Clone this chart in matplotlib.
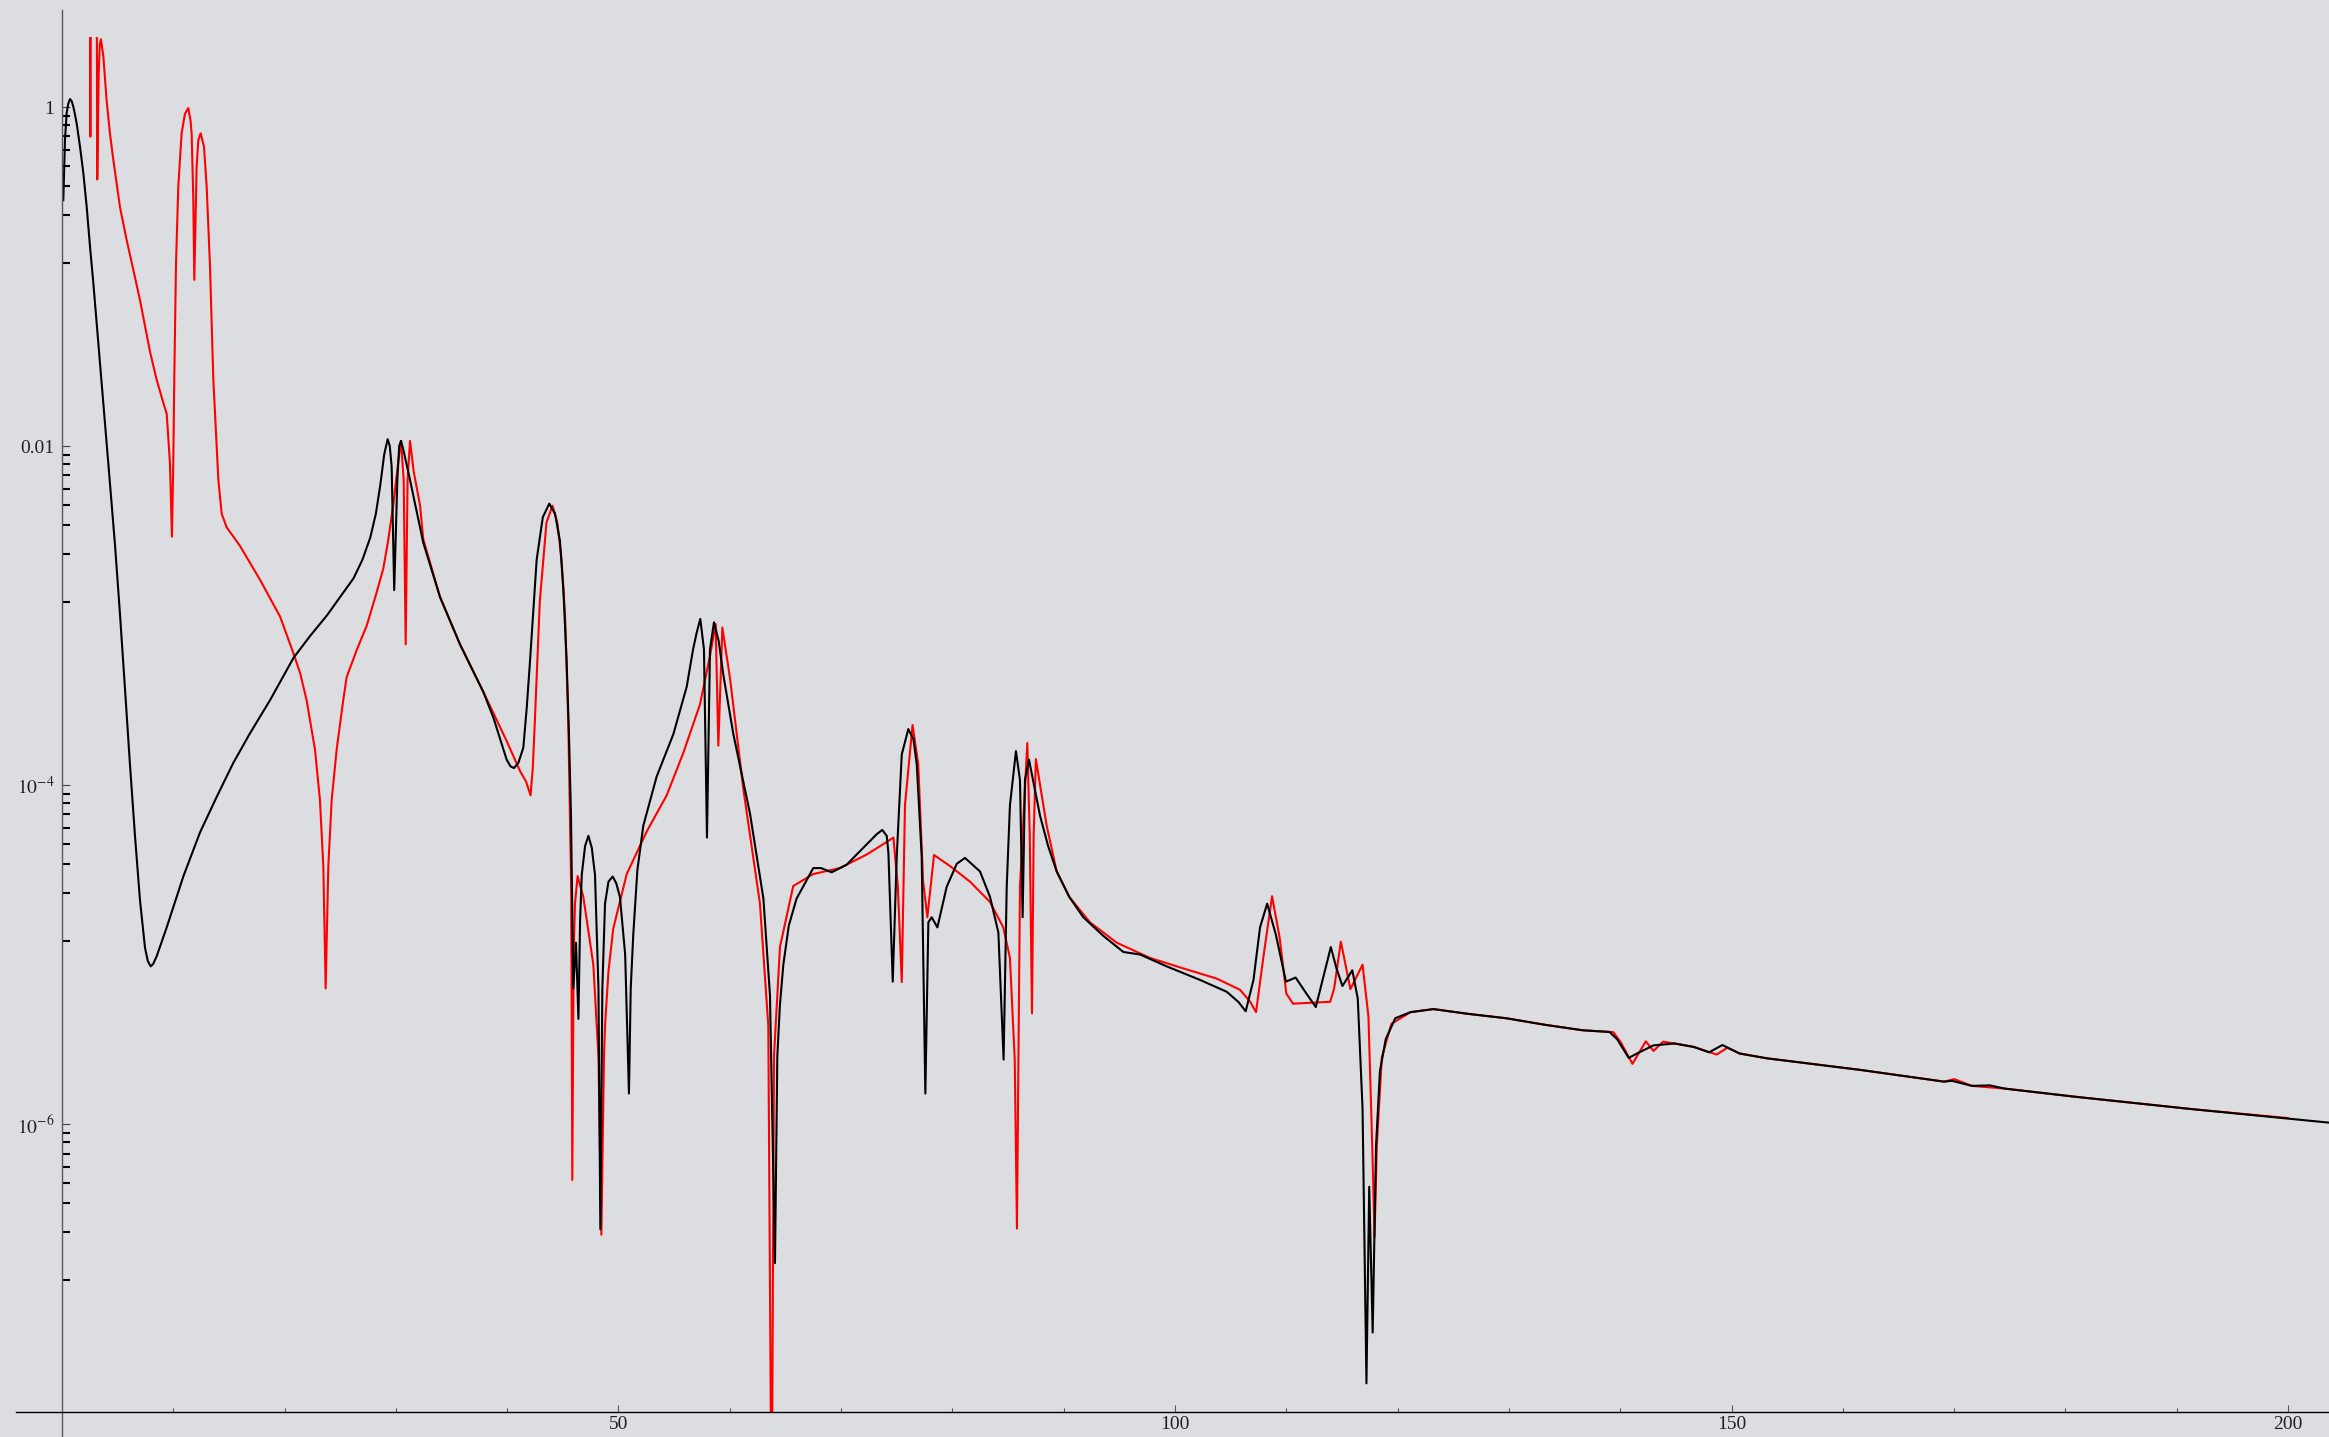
import numpy as np
import matplotlib
matplotlib.use("Agg")
import matplotlib.pyplot as plt
from matplotlib.ticker import FixedLocator, FixedFormatter, NullFormatter

# spectrum samples, y stored as log10 of the amplitude
black_x = [0.12, 0.27, 0.42, 0.57, 0.72, 0.87, 1.02, 1.17, 1.32, 1.62, 1.92, 2.22, 2.52, 2.82, 3.1,
           3.57, 4.16, 4.76, 5.21, 5.57, 5.75, 6.11, 6.56, 7.01, 7.46, 7.72, 7.97, 8.2, 8.51, 9.41,
           10.9, 12.4, 13.9, 15.39, 16.89, 18.69, 20.8, 22.3, 23.8, 25.0, 26.2, 27.0, 27.7, 28.2, 28.6,
           28.95, 29.26, 29.45, 29.62, 29.85, 30.13, 30.3, 30.46, 30.7, 31.27, 32.46, 33.96, 35.76,
           37.85, 38.75, 39.95, 40.3, 40.61, 41.0, 41.45, 41.75, 42.05, 42.65, 43.2, 43.78, 44.3,
           44.74, 45.05, 45.34, 45.55, 45.73, 45.94, 46.18, 46.4, 46.55, 46.7, 47.0, 47.3, 47.6, 47.89,
           48.2, 48.37, 48.55, 48.79, 49.1, 49.48, 49.8, 50.13, 50.6, 50.94, 51.1, 51.33, 51.7, 52.23,
           53.43, 54.93, 56.13, 56.7, 57.03, 57.35, 57.68, 57.95, 58.22, 58.58, 59.0, 59.42, 60.32,
           61.82, 63.02, 63.61, 64.06, 64.27, 64.5, 64.81, 65.3, 66.0, 67.5, 68.2, 69.15, 70.5, 72.3,
           73.2, 73.7, 74.1, 74.25, 74.64, 75.0, 75.45, 76.04, 76.5, 76.8, 77.24, 77.57, 77.84, 78.14,
           78.65, 79.49, 80.39, 81.13, 82.48, 83.38, 84.13, 84.6, 84.88, 85.17, 85.71, 86.07, 86.31,
           86.52, 86.88, 87.87, 88.6, 89.37, 90.5, 91.76, 93.56, 95.36, 96.86, 99.26, 102.25, 104.65,
           105.7, 106.35, 107.05, 107.64, 108.28, 109.05, 109.97, 110.84, 111.8, 112.65, 113.3, 114.0,
           114.5, 115.04, 115.93, 116.42, 116.85, 117.2, 117.45, 117.76, 118.06, 118.41, 118.93,
           119.79, 121.16, 123.22, 126.32, 129.76, 133.19, 136.63, 139.04, 139.73, 140.76, 141.62,
           142.99, 144.88, 146.6, 147.98, 149.18, 150.73, 153.14, 161.6, 169.1, 169.8, 171.6, 173.2,
           174.55, 180.86, 191.5, 203.7]
black_log = [-0.55, -0.195, -0.036, 0.02, 0.047, 0.035, 0.002, -0.045, -0.096, -0.234, -0.39, -0.588,
             -0.824, -1.04, -1.26, -1.63, -2.1, -2.58, -2.99, -3.34, -3.52, -3.88, -4.3, -4.68, -4.96,
             -5.04, -5.07, -5.055, -5.01, -4.84, -4.54, -4.28, -4.07, -3.87, -3.695, -3.5, -3.25, -3.12,
             -3.0, -2.89, -2.78, -2.67, -2.54, -2.4, -2.23, -2.05, -1.96, -2.0, -2.12, -2.85, -2.2, -2.0,
             -1.97, -2.03, -2.2, -2.57, -2.89, -3.17, -3.45, -3.6, -3.85, -3.89, -3.9, -3.87, -3.78,
             -3.55, -3.27, -2.67, -2.42, -2.34, -2.4, -2.56, -2.85, -3.27, -3.7, -4.17, -5.2, -4.93,
             -5.38, -4.8, -4.53, -4.36, -4.3, -4.37, -4.53, -5.2, -6.62, -5.2, -4.7, -4.57, -4.54, -4.58,
             -4.66, -5.0, -5.82, -5.2, -4.88, -4.5, -4.24, -3.95, -3.70, -3.42, -3.2, -3.10, -3.02, -3.2,
             -4.31, -3.2, -3.04, -3.15, -3.35, -3.70, -4.17, -4.67, -5.24, -6.82, -5.6, -5.3, -5.06,
             -4.83, -4.67, -4.49, -4.49, -4.515, -4.47, -4.35, -4.29, -4.265, -4.3, -4.4, -5.16, -4.42,
             -3.82, -3.67, -3.73, -3.88, -4.42, -5.82, -4.81, -4.78, -4.84, -4.6, -4.465, -4.43, -4.51,
             -4.66, -4.87, -5.62, -4.6, -4.12, -3.80, -3.97, -4.78, -3.97, -3.85, -4.18, -4.36, -4.51,
             -4.66, -4.78, -4.89, -4.985, -5.0, -5.07, -5.15, -5.22, -5.28, -5.335, -5.15, -4.84, -4.70,
             -4.88, -5.16, -5.136, -5.23, -5.31, -5.14, -4.956, -5.08, -5.186, -5.093, -5.26, -5.91,
             -7.53, -6.37, -7.23, -6.13, -5.69, -5.50, -5.376, -5.34, -5.322, -5.35, -5.376, -5.414,
             -5.447, -5.457, -5.50, -5.61, -5.58, -5.536, -5.525, -5.545, -5.577, -5.534, -5.584,
             -5.612, -5.681, -5.75, -5.745, -5.775, -5.772, -5.791, -5.839, -5.913, -5.992]

red_x = [0.1, 2.48, 2.55, 2.62, 3.1, 3.17, 3.22, 3.3, 3.4, 3.5, 3.72, 4.01, 4.3, 4.61, 5.21, 5.81,
         6.41, 7.01, 7.91, 8.51, 9.1, 9.41, 9.7, 9.88, 10.0, 10.09, 10.24, 10.45, 10.75, 11.05, 11.35,
         11.55, 11.65, 11.8, 11.89, 12.1, 12.25, 12.46, 12.76, 13.0, 13.3, 13.6, 14.05, 14.35, 14.8,
         16.0, 17.8, 19.6, 20.78, 21.4, 21.98, 22.73, 23.18, 23.48, 23.69, 23.93, 24.23, 24.68, 25.27,
         25.58, 26.5, 27.37, 28.2, 28.87, 29.3, 29.77, 30.2, 30.46, 30.7, 30.88, 31.05, 31.27, 31.6,
         32.17, 32.46, 33.96, 35.76, 37.85, 39.95, 41.15, 41.7, 42.1, 42.3, 42.48, 42.93, 43.53,
         44.07, 44.5, 44.88, 45.2, 45.49, 45.75, 45.85, 45.97, 46.09, 46.33, 46.84, 47.74, 48.2,
         48.46, 48.7, 48.79, 49.1, 49.53, 50.74, 52.53, 54.33, 55.82, 57.32, 58.22, 58.73, 58.97,
         59.33, 60.02, 61.22, 62.71, 63.46, 63.76, 63.97, 64.51, 65.7, 67.5, 69.9, 72.3, 74.0, 74.7,
         75.1, 75.45, 75.74, 76.42, 76.93, 77.37, 77.75, 78.35, 79.78, 81.58, 83.38, 84.57, 85.17,
         85.6, 85.8, 86.07, 86.73, 86.95, 87.15, 87.3, 87.5, 88.47, 89.37, 90.5, 92.36, 94.76, 97.75,
         100.75, 103.75, 105.84, 106.74, 107.28, 107.93, 108.72, 109.4, 110.0, 110.6, 113.94, 114.3,
         114.9, 115.76, 116.85, 117.38, 117.72, 117.93, 118.13, 118.58, 119.44, 121.16, 123.22,
         126.32, 129.76, 133.19, 136.63, 139.38, 140.07, 141.1, 142.3, 142.99, 143.85, 144.88,
         146.6, 148.66, 149.63, 150.73, 153.14, 161.6, 169.1, 170.0, 171.6, 174.55, 180.86, 191.5,
         200.0]
red_log = [1.3, 1.3, -0.175, 1.3, 1.3, -0.427, -0.2, 0.2, 0.37, 0.40, 0.297, 0.04, -0.15, -0.31,
           -0.59, -0.785, -0.96, -1.14, -1.444, -1.61, -1.744, -1.81, -2.1, -2.535, -2.1, -1.61, -0.94,
           -0.47, -0.155, -0.04, -0.006, -0.08, -0.155, -0.55, -1.02, -0.35, -0.195, -0.155, -0.234,
           -0.47, -0.94, -1.61, -2.2, -2.4, -2.48, -2.59, -2.79, -3.007, -3.22, -3.34, -3.5, -3.79,
           -4.09, -4.48, -5.2, -4.48, -4.09, -3.79, -3.5, -3.363, -3.2, -3.062, -2.88, -2.723, -2.56,
           -2.346, -2.1, -1.97, -2.2, -3.17, -2.2, -1.97, -2.15, -2.35, -2.55, -2.89, -3.17, -3.45,
           -3.74, -3.917, -3.98, -4.061, -3.9, -3.632, -2.917, -2.452, -2.352, -2.45, -2.667, -3.0,
           -3.632, -4.6, -6.33, -5.0, -4.7, -4.537, -4.66, -5.06, -5.6, -6.653, -5.6, -5.42, -5.1,
           -4.847, -4.525, -4.275, -4.061, -3.811, -3.525, -3.239, -3.05, -3.768, -3.071, -3.37,
           -4.025, -4.7, -5.42, -8.5, -5.6, -4.955, -4.596, -4.525, -4.49, -4.41, -4.34, -4.31, -4.6,
           -5.163, -4.118, -3.646, -3.876, -4.57, -4.78, -4.413, -4.478, -4.57, -4.69, -4.84, -5.02,
           -5.62, -6.617, -4.6, -3.752, -4.3, -5.347, -4.3, -3.847, -4.24, -4.51, -4.66, -4.81, -4.93,
           -5.02, -5.082, -5.142, -5.208, -5.277, -5.34, -5.02, -4.656, -4.9, -5.23, -5.29, -5.279,
           -5.2, -4.924, -5.204, -5.06, -5.366, -6.13, -6.664, -6.13, -5.606, -5.409, -5.34, -5.322,
           -5.35, -5.376, -5.414, -5.447, -5.458, -5.52, -5.645, -5.512, -5.569, -5.514, -5.525,
           -5.545, -5.59, -5.55, -5.584, -5.612, -5.681, -5.75, -5.735, -5.775, -5.791, -5.839,
           -5.913, -5.965]

x_major = [50, 100, 150, 200]
x_minor = [10, 20, 30, 40, 60, 70, 80, 90, 110, 120, 130, 140, 160, 170, 180, 190]
y_major = [1e-6, 1e-4, 1e-2, 1.0]
y_labels = ["$10^{-6}$", "$10^{-4}$", "0.01", "1"]

# minor log ticks: 8 evenly spaced (linear) values between neighbouring labelled decades
y_minor = []
for lo in [1e-8, 1e-6, 1e-4, 1e-2]:
    hi = lo * 100
    y_minor += [lo + k * (hi - lo) / 9 for k in range(1, 9)]

plt.rcParams["font.family"] = ["Liberation Serif", "DejaVu Serif"]
plt.rcParams["mathtext.fontset"] = "stix"

bg = "#dcdde0"
W, H = 2329, 1437
fig = plt.figure(figsize=(W / 100, H / 100), dpi=100, facecolor=bg)
ax = fig.add_axes([16 / W, 25 / H, 1 - 16 / W, (1412 - 37) / H])
ax.set_facecolor(bg)

ax.plot(red_x, 10.0 ** np.array(red_log), color="#ff0000", lw=1.5)
ax.plot(black_x, 10.0 ** np.array(black_log), color="black", lw=1.5)

ax.set_yscale("log")
ax.set_xlim(-4.13, 203.68)
ax.set_ylim(2e-8, 10 ** 0.413)

for s in ["top", "right"]:
    ax.spines[s].set_visible(False)
ax.spines["left"].set_position(("data", 0))
ax.spines["left"].set_visible(False)
ax.spines["bottom"].set_color("black")
ax.spines["bottom"].set_linewidth(1.0)
# vertical axis line runs past the plotting range
ax.axvline(0, ymin=-25 / 1375, ymax=1 + 27 / 1375, color="#5a5a5a", lw=1.0, clip_on=False)

ax.xaxis.set_major_locator(FixedLocator(x_major))
ax.xaxis.set_minor_locator(FixedLocator(x_minor))
ax.xaxis.set_minor_formatter(NullFormatter())
ax.tick_params(axis="x", which="major", direction="in", length=5, width=0.8, color="#555555",
               labelsize=14, pad=3)
ax.tick_params(axis="x", which="minor", direction="in", length=3, width=0.8, color="#555555")

ax.yaxis.set_major_locator(FixedLocator(y_major))
ax.yaxis.set_major_formatter(FixedFormatter(y_labels))
ax.yaxis.set_minor_locator(FixedLocator(y_minor))
ax.yaxis.set_minor_formatter(NullFormatter())
ax.tick_params(axis="y", which="major", direction="in", length=6, width=0.8, color="#444444",
               labelsize=14, pad=5.5)
ax.tick_params(axis="y", which="minor", direction="in", length=6, width=1.5, color="black")
for lab in ax.get_xticklabels() + ax.get_yticklabels():
    lab.set_color("#222222")

fig.savefig("out.png", dpi=100, facecolor=bg)
